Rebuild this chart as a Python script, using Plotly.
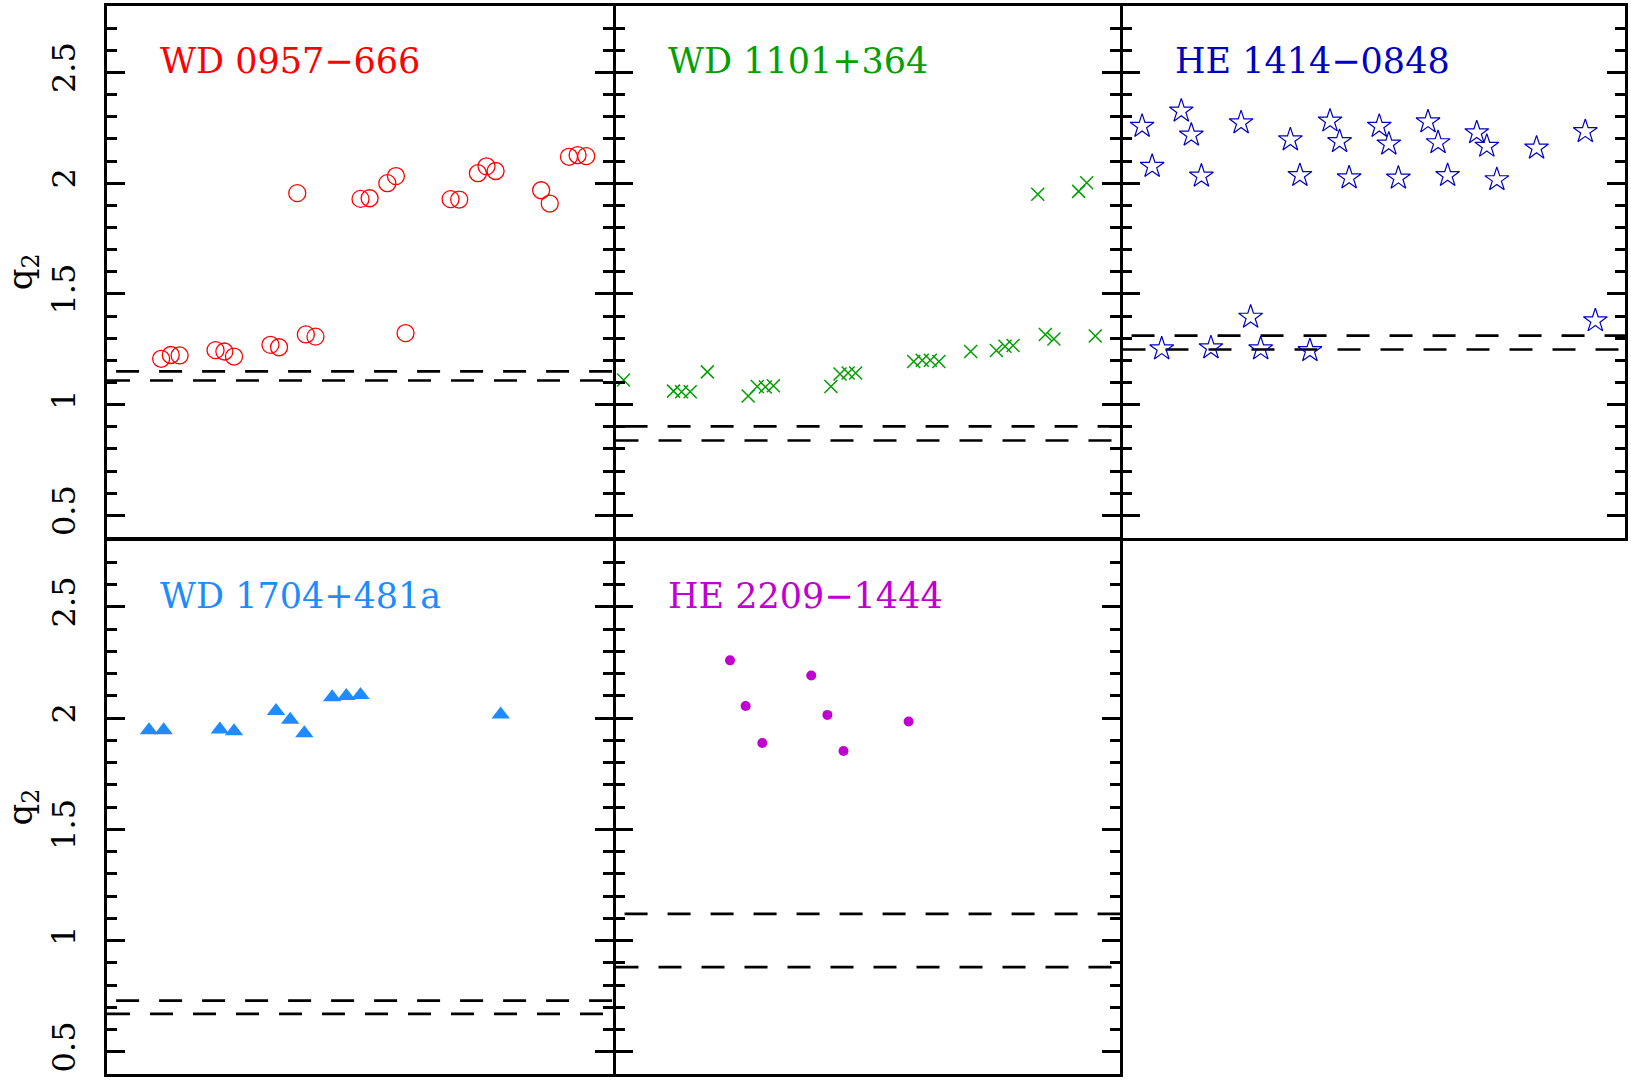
import plotly.graph_objects as go

# ---- data: q2 estimates per object (x = relative position along the panel, 0-100) ----
wd0957_x = [10.7, 12.6, 14.35, 21.45, 23.2, 25.1, 32.3, 34.0, 37.6, 39.3, 41.2, 50.1, 51.9,
            55.4, 57.1, 59.0, 67.9, 69.6, 73.3, 75.0, 76.8, 85.8, 87.5, 91.3, 93.0, 94.7]
wd0957_q2 = [1.207, 1.224, 1.222, 1.246, 1.240, 1.217, 1.270, 1.259, 1.955, 1.317, 1.307, 1.929, 1.932,
             2.000, 2.032, 1.323, 1.928, 1.926, 2.045, 2.076, 2.055, 1.968, 1.908, 2.119, 2.127, 2.122]

wd1101_x = [1.6, 11.5, 13.1, 14.8, 18.2, 26.3, 28.1, 29.7, 31.3, 42.7, 44.5, 46.1, 47.6, 59.1,
            60.8, 62.4, 64.1, 70.4, 75.5, 77.2, 78.8, 83.7, 85.2, 86.9, 91.8, 93.4, 95.1]
wd1101_q2 = [1.111, 1.061, 1.058, 1.058, 1.148, 1.039, 1.082, 1.080, 1.085, 1.082, 1.138, 1.143, 1.143, 1.195,
             1.200, 1.200, 1.195, 1.240, 1.244, 1.264, 1.267, 1.950, 1.317, 1.296, 1.963, 2.002, 1.310]

he1414_x = [3.9, 5.9, 7.8, 11.7, 13.7, 15.7, 17.6, 23.6, 25.5, 27.5, 33.4, 35.3, 37.3, 41.3,
            43.2, 45.1, 51.1, 53.0, 54.9, 60.8, 62.8, 64.7, 70.5, 72.5, 74.5, 82.4, 92.1, 94.1]
he1414_q2 = [2.257, 2.076, 1.252, 2.326, 2.217, 2.032, 1.257, 2.273, 1.395, 1.252, 2.196, 2.035, 1.244, 2.281,
             2.188, 2.024, 2.257, 2.177, 2.023, 2.277, 2.183, 2.035, 2.228, 2.167, 2.016, 2.159, 2.233, 1.379]

wd1704_x = [8.3, 11.2, 22.3, 25.1, 33.4, 36.2, 39.0, 44.5, 47.3, 50.1, 77.8]
wd1704_q2 = [1.945, 1.945, 1.948, 1.940, 2.032, 1.992, 1.932, 2.093, 2.099, 2.103, 2.016]

he2209_x = [22.7, 25.8, 29.1, 38.8, 42.0, 45.2, 58.1]
he2209_q2 = [2.259, 2.054, 1.888, 2.191, 2.014, 1.852, 1.984]

# dashed reference levels (upper, lower) for each object
wd0957_lim = [1.150, 1.109]
wd1101_lim = [0.902, 0.838]
he1414_lim = [1.312, 1.249]
wd1704_lim = [0.730, 0.670]
he2209_lim = [1.120, 0.880]

names = ["WD 0957\u2212666", "WD 1101+364", "HE 1414\u22120848", "WD 1704+481a", "HE 2209\u22121444"]

X_RANGE = [0, 100]
Y_RANGE = [0.4, 2.8]

panels = [
    dict(name=names[0], x=wd0957_x, y=wd0957_q2, lim=wd0957_lim, color="#ff0000",
         marker=dict(symbol="circle-open", size=17, color="#ff0000", line=dict(width=1.3))),
    dict(name=names[1], x=wd1101_x, y=wd1101_q2, lim=wd1101_lim, color="#00a000",
         marker=dict(symbol="x-thin-open", size=13, color="#00a000", line=dict(width=1.5))),
    dict(name=names[2], x=he1414_x, y=he1414_q2, lim=he1414_lim, color="#0000c0",
         marker=dict(symbol="star-open", size=18, color="#0000c0", line=dict(width=1.2))),
    dict(name=names[3], x=wd1704_x, y=wd1704_q2, lim=wd1704_lim, color="#1e8cff",
         marker=dict(symbol="triangle-up", size=16, color="#1e8cff", line=dict(width=0))),
    dict(name=names[4], x=he2209_x, y=he2209_q2, lim=he2209_lim, color="#c000d0",
         marker=dict(symbol="circle", size=10, color="#c000d0", line=dict(width=0))),
]

W, H = 1631, 1080
AXW = 2.5
gx = AXW / W   # gap so neighbouring frame lines fall on the same pixels
gy = AXW / H
col_domains = [[107 / W, 613 / W], [613 / W + gx, 1120 / W], [1120 / W + gx, 1625 / W]]
row_domains = [[0.5 + gy, 1 - 6 / H], [6 / H, 0.5]]
cells = [(0, 0), (0, 1), (0, 2), (1, 0), (1, 1)]

fig = go.Figure()
layout = dict(
    width=W, height=H,
    margin=dict(l=0, r=0, t=0, b=0),
    paper_bgcolor="white", plot_bgcolor="white",
    showlegend=False,
    annotations=[],
)

for i, (p, (r, c)) in enumerate(zip(panels, cells)):
    n = i + 1
    xa = "x" if n == 1 else f"x{n}"
    ya = "y" if n == 1 else f"y{n}"
    xkey = "xaxis" if n == 1 else f"xaxis{n}"
    ykey = "yaxis" if n == 1 else f"yaxis{n}"

    # two dashed horizontal limits
    for k, lvl in enumerate(p["lim"]):
        x0 = X_RANGE[0] + (1.8 if k == 0 else 0.0)
        fig.add_trace(go.Scatter(
            x=[x0, X_RANGE[1]], y=[lvl, lvl], xaxis=xa, yaxis=ya, mode="lines",
            line=dict(color="black", width=2.7, dash="23px,20px"), hoverinfo="skip"))

    fig.add_trace(go.Scatter(x=p["x"], y=p["y"], xaxis=xa, yaxis=ya, mode="markers",
                             marker=p["marker"], cliponaxis=True))

    layout[xkey] = dict(domain=col_domains[c], anchor=ya, range=X_RANGE,
                        showline=True, mirror=True, linecolor="black", linewidth=AXW,
                        ticks="", showticklabels=False, showgrid=False, zeroline=False)
    ydict = dict(domain=row_domains[r], anchor=xa, range=Y_RANGE,
                 showline=True, mirror="ticks", linecolor="black", linewidth=AXW,
                 ticks="inside", ticklen=18, tickwidth=AXW, tickcolor="black",
                 tick0=0, dtick=0.5,
                 minor=dict(ticks="inside", ticklen=10, tickwidth=AXW, tickcolor="black", dtick=0.1),
                 showgrid=False, zeroline=False, showticklabels=(c == 0))
    if c == 0:
        ydict.update(tickangle=-90,
                     tickfont=dict(family="DejaVu Serif", size=32, color="black"),
                     ticklabelstandoff=16,
                     title=dict(text="q<sub>2</sub>", standoff=8,
                                font=dict(family="DejaVu Serif", size=34, color="black")))
    layout[ykey] = ydict

    layout["annotations"].append(dict(
        text=p["name"], xref=xa, yref=ya, x=10, y=2.55, xanchor="left", yanchor="middle",
        showarrow=False, font=dict(family="DejaVu Serif", size=35, color=p["color"])))

fig.update_layout(**layout)
fig.write_html("out.html")
